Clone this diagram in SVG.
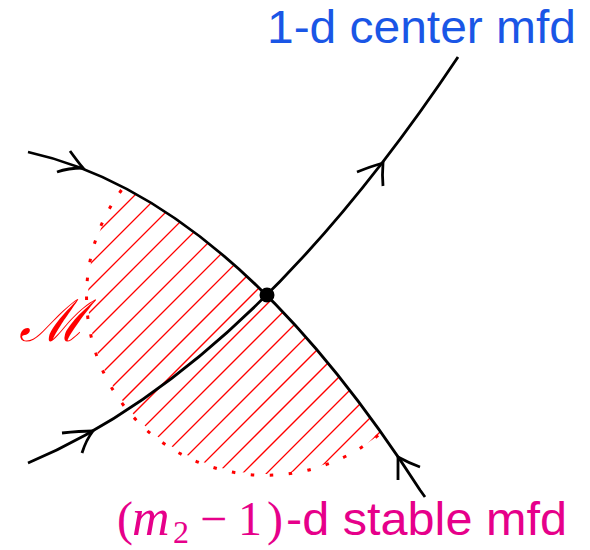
<svg xmlns="http://www.w3.org/2000/svg" width="590" height="550" viewBox="0 0 590 550">
<style>
.curve{fill:none;stroke:#000;stroke-width:2.8;stroke-linecap:butt}
.arr{fill:none;stroke:#000;stroke-width:2.8;stroke-linecap:butt;stroke-linejoin:miter}
.hatch{stroke:#ff0000;stroke-width:1.3}
.dots{fill:none;stroke:#ff0000;stroke-width:3;stroke-dasharray:3.5 15.5}
.sans{font-family:"Liberation Sans","DejaVu Sans",sans-serif;font-size:46px}
.math{font-family:"Liberation Serif","DejaVu Serif",serif;font-size:48px}
</style>
<defs>
<clipPath id="circ"><circle cx="267" cy="295" r="179"/></clipPath>
<clipPath id="below"><path d="M28,152 Q231,197 420,490 L425,497 L425,550 L0,550 L0,152 Z"/></clipPath>
</defs>
<rect width="590" height="550" fill="#fff"/>
<g id="region">
<g clip-path="url(#below)">
<g clip-path="url(#circ)">
<path class="hatch" d="M-270,600L430,-100M-246,600L454,-100M-222,600L478,-100M-198,600L502,-100M-174,600L526,-100M-149,600L551,-100M-125,600L575,-100M-101,600L599,-100M-77,600L623,-100M-53,600L647,-100M-29,600L671,-100M-5,600L695,-100M19,600L719,-100M43,600L743,-100M67,600L767,-100M91,600L791,-100M116,600L816,-100M140,600L840,-100M164,600L864,-100M188,600L888,-100M212,600L912,-100"/>
</g>
</g>
<path class="dots" d="M121.5,190 A179,179 0 0 0 381.3,432.8"/>
</g>
<g id="connectors">
<path id="stable" class="curve" d="M28,152 Q231,197 420,490 L425,497"/>
<path id="center" class="curve" d="M28,463 Q249,370 458,57"/>
<path class="arr" d="M70,151 Q78,162 83,168 Q68,168 57,172"/>
<path class="arr" d="M62,433 Q80,431 93,431 Q86,440 82,453"/>
<path class="arr" d="M357,172 Q372,166 383,163 Q382,175 383,186"/>
<path class="arr" d="M398,480 Q398,467 398,457 Q409,463 420,467"/>
</g>
<g id="saddle"><circle cx="267" cy="295" r="7.5" fill="#000"/></g>
<g id="label-M"><text x="19" y="341" font-family="DejaVu Serif, serif" font-style="italic" font-size="58" fill="#ff0000">ℳ</text></g>
<g id="label-center"><text class="sans" x="267" y="43" textLength="309" lengthAdjust="spacingAndGlyphs" fill="#1a56e6">1-d center mfd</text></g>
<g id="label-stable">
<text class="math" y="535" fill="#e6008a"><tspan x="117">(</tspan><tspan x="132" font-style="italic" font-size="52">m</tspan><tspan x="173" dy="8" font-size="32">2</tspan><tspan x="200" dy="-8">−</tspan><tspan x="238">1</tspan><tspan x="267">)</tspan></text>
<text class="sans" x="286" y="535" font-size="47" textLength="281" lengthAdjust="spacingAndGlyphs" fill="#e6008a">-d stable mfd</text>
</g>
</svg>
